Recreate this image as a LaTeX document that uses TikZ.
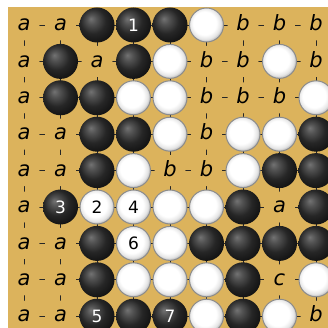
\documentclass[tikz,border=0pt]{standalone}
\usepackage{fontspec}
\setsansfont{DejaVu Sans}
\definecolor{board}{RGB}{220,179,92}
\pgfdeclareradialshading{bstone}{\pgfpoint{-9bp}{9bp}}{color(0bp)=(black!55); color(7bp)=(black!68); color(18bp)=(black!85); color(30bp)=(black!93); color(50bp)=(black)}
\pgfdeclareradialshading{wstone}{\pgfpoint{-4bp}{4bp}}{color(0bp)=(white); color(17bp)=(white); color(23bp)=(black!10); color(28bp)=(black!35); color(50bp)=(black!40)}
\tikzset{
  gridline/.style={line width=0.9pt, draw=black!85},
  blackstone/.style={circle, inner sep=0pt, minimum size=35pt, shading=bstone, text=white,
    font=\sffamily\fontsize{17}{20}\selectfont},
  whitestone/.style={circle, inner sep=0pt, minimum size=34pt, shading=wstone, draw=black!45, line width=1pt, text=black,
    font=\sffamily\fontsize{17}{20}\selectfont},
  marklabel/.style={circle, fill=board, inner sep=0pt, minimum size=31pt, text height=11.5pt, text depth=0pt,
    font=\sffamily\itshape\fontsize{21}{25}\selectfont}
}
\begin{document}
\begin{tikzpicture}[x=1pt,y=-1pt]
\useasboundingbox (0,0) rectangle (328,328);
\fill[white] (0,0) rectangle (328,328);
\fill[board] (8,7) rectangle (328,328);
\begin{scope}[shift={(-12.5,-11.4)}, x=36.5pt, y=-36.4pt]
  \foreach \i in {1,...,9} {
    \draw[gridline] (1,\i) -- (9,\i);
    \draw[gridline] (\i,1) -- (\i,9);
  }
  % black stones
  \foreach \c/\r/\t in {3/1/{},4/1/1,5/1/{},2/2/{},4/2/{},2/3/{},3/3/{},3/4/{},4/4/{},9/4/{},
      3/5/{},8/5/{},9/5/{},2/6/3,7/6/{},9/6/{},3/7/{},6/7/{},7/7/{},8/7/{},9/7/{},
      3/8/{},7/8/{},3/9/5,4/9/{},5/9/7,7/9/{}}
    \node[blackstone] (b-\c-\r) at (\c,\r) {\t};
  % white stones
  \foreach \c/\r/\t in {6/1/{},5/2/{},8/2/{},4/3/{},5/3/{},9/3/{},5/4/{},7/4/{},8/4/{},
      4/5/{},7/5/{},3/6/2,4/6/4,5/6/{},6/6/{},4/7/6,5/7/{},4/8/{},5/8/{},6/8/{},9/8/{},
      6/9/{},8/9/{}}
    \node[whitestone] (w-\c-\r) at (\c,\r) {\t};
  % letter marks
  \foreach \c/\r/\t in {1/1/a,2/1/a,7/1/b,8/1/b,9/1/b,
      1/2/a,3/2/a,6/2/b,7/2/b,9/2/b,
      1/3/a,6/3/b,7/3/b,8/3/b,
      1/4/a,2/4/a,6/4/b,
      1/5/a,2/5/a,5/5/b,6/5/b,
      1/6/a,8/6/a,
      1/7/a,2/7/a,
      1/8/a,2/8/a,8/8/c,
      1/9/a,2/9/a,9/9/b}
    \node[marklabel] (m-\c-\r) at (\c,\r) {\t};
\end{scope}
\end{tikzpicture}
\end{document}
